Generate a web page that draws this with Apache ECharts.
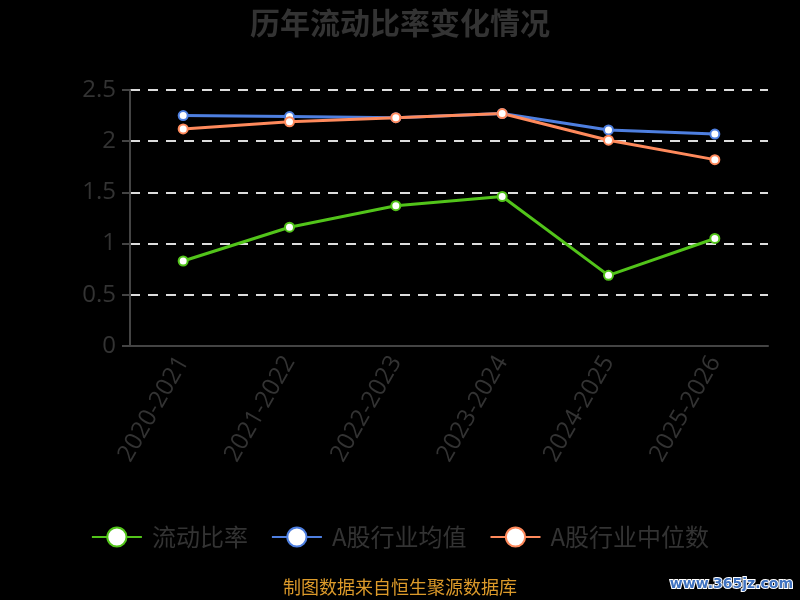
<!DOCTYPE html>
<html>
<head>
<meta charset="utf-8">
<script src="https://cdn.jsdelivr.net/npm/echarts@6/dist/echarts.min.js"></script>
<style>
  html, body { margin: 0; padding: 0; background: #000; }
  #chart { width: 800px; height: 600px; }
</style>
</head>
<body>
<div id="chart"></div>
<script>
const categories = ["2020-2021", "2021-2022", "2022-2023", "2023-2024", "2024-2025", "2025-2026"]
const currentRatio = [0.83, 1.16, 1.37, 1.46, 0.69, 1.05]
const industryAvg = [2.25, 2.24, 2.23, 2.27, 2.11, 2.07]
const industryMedian = [2.12, 2.19, 2.23, 2.27, 2.01, 1.82]
const seriesNames = ["流动比率", "A股行业均值", "A股行业中位数"]
const colors = ["#52c41a", "#4e7fe0", "#ff8a5c"]

const font = "'Noto Sans CJK SC', 'Noto Sans', sans-serif"
const numFont = "'Open Sans', 'Noto Sans', sans-serif"

let myChart = echarts.init(document.getElementById("chart"))

const makeSeries = (name, data, color) => ({
  name: name,
  type: "line",
  data: data,
  symbol: "emptyCircle",
  symbolSize: 9,
  lineStyle: { width: 3, color: color },
  itemStyle: { color: color, borderWidth: 2 }
})

myChart.setOption({
  backgroundColor: "#000",
  color: colors,
  title: {
    text: "历年流动比率变化情况",
    left: "center",
    top: 3,
    textStyle: { color: "#333", fontSize: 30, fontWeight: "bold", fontFamily: font }
  },
  legend: {
    bottom: 46,
    left: "center",
    itemWidth: 50,
    itemHeight: 24,
    itemGap: 23,
    textStyle: { color: "#333", fontSize: 24, fontFamily: font, padding: [0, 0, 0, 5] },
    data: seriesNames
  },
  grid: { left: 130, right: 32, top: 90, bottom: 254 },
  xAxis: {
    type: "category",
    data: categories,
    axisLine: { lineStyle: { color: "#444", width: 2 } },
    axisTick: { lineStyle: { color: "#444", width: 2 }, length: 6 },
    axisLabel: { color: "#333", fontSize: 24, rotate: 60, margin: 12, fontFamily: numFont }
  },
  yAxis: {
    type: "value",
    min: 0,
    max: 2.5,
    interval: 0.5,
    axisLine: { show: true, lineStyle: { color: "#444", width: 2 } },
    axisTick: { show: true, lineStyle: { color: "#444", width: 2 }, length: 8 },
    axisLabel: { color: "#333", fontSize: 24, margin: 14, fontFamily: numFont },
    splitLine: { lineStyle: { color: "#ddd", type: [10, 8], width: 2 } }
  },
  series: [
    makeSeries(seriesNames[0], currentRatio, colors[0]),
    makeSeries(seriesNames[1], industryAvg, colors[1]),
    makeSeries(seriesNames[2], industryMedian, colors[2])
  ],
  graphic: [
    {
      type: "text",
      left: "center",
      top: 578,
      style: { text: "制图数据来自恒生聚源数据库", fill: "#dc9a2a", fontSize: 18, fontFamily: font }
    },
    {
      type: "text",
      right: 6,
      top: 576,
      style: {
        text: "www.365jz.com",
        fill: "#3f72c0",
        stroke: "#fff",
        lineWidth: 2,
        fontSize: 14,
        fontWeight: "bold",
        fontFamily: "'DejaVu Sans', sans-serif"
      }
    }
  ]
})
</script>
</body>
</html>
